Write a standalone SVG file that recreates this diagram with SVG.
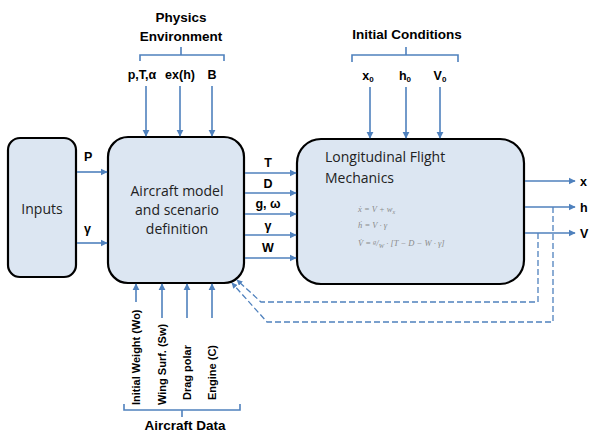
<svg xmlns="http://www.w3.org/2000/svg" width="593" height="435" viewBox="0 0 593 435">
<defs>
<style>
.box{fill:#dce6f2;stroke:#000;stroke-width:2.2}
.ln{stroke:#4f81bd;stroke-width:1.6;fill:none}
.dash{stroke:#4f81bd;stroke-width:1.3;fill:none;stroke-dasharray:6 3}
.lbl{font-family:"Liberation Sans",Arial,sans-serif;font-weight:bold;font-size:12.5px;fill:#000}
.ttl{font-family:"Liberation Sans",Arial,sans-serif;font-weight:bold;font-size:13.5px;fill:#000;text-anchor:middle}
.body{font-family:"Open Sans","Liberation Sans",sans-serif;font-size:14px;fill:#222}
.eq{font-family:"Liberation Serif","Times New Roman",serif;font-style:italic;font-size:8.5px;fill:#8a8a8a}
.rot{font-family:"Liberation Sans",Arial,sans-serif;font-weight:bold;font-size:11px;fill:#000}
</style>
<marker id="ah" viewBox="0 0 10 10" refX="9" refY="5" markerWidth="4.5" markerHeight="4.5" orient="auto-start-reverse" markerUnits="strokeWidth">
<path d="M0,0 L10,5 L0,10 z" fill="#4f81bd"/>
</marker>
</defs>
<rect width="593" height="435" fill="#fff"/>

<g id="inputs">
<rect class="box" x="8" y="138" width="68" height="139" rx="12"/>
<text class="body" x="42" y="214" text-anchor="middle">Inputs</text>
</g>

<g id="aircraft-model">
<rect class="box" x="108" y="137" width="136" height="146" rx="20"/>
<text class="body" x="177" y="196" text-anchor="middle">Aircraft model</text>
<text class="body" x="177" y="215" text-anchor="middle">and scenario</text>
<text class="body" x="177" y="234" text-anchor="middle">definition</text>
</g>

<g id="flight-mechanics">
<rect class="box" x="297" y="139" width="227" height="145" rx="24"/>
<text class="body" x="325" y="162">Longitudinal Flight</text>
<text class="body" x="325" y="183">Mechanics</text>
<text class="eq" x="358" y="212">ẋ = V + w<tspan font-size="6" dy="1.5">x</tspan></text>
<text class="eq" x="358" y="228">ḣ = V · γ</text>
<text class="eq" x="358" y="246">V̇ = <tspan font-size="6.5" dy="-2.5">g</tspan><tspan dy="2.5">/</tspan><tspan font-size="6.5" dy="2">W</tspan><tspan dy="-2"> · [T − D − W · γ]</tspan></text>
</g>

<g id="physics-environment">
<text class="ttl" x="181" y="22">Physics</text>
<text class="ttl" x="181" y="41">Environment</text>
<path class="ln" d="M140,61 V55 H224 V61 M181,55 V47"/>
<text class="lbl" x="142" y="79" text-anchor="middle" font-size="11.5">p,T,α</text>
<text class="lbl" x="180" y="79" text-anchor="middle" font-size="11.5">ex(h)</text>
<text class="lbl" x="212" y="79" text-anchor="middle" font-size="11.5">B</text>
</g>

<g id="initial-conditions">
<text class="ttl" x="407" y="39">Initial Conditions</text>
<path class="ln" d="M352,62 V55 H458 V62 M406,55 V47"/>
<text class="lbl" x="368" y="80" text-anchor="middle">x<tspan font-size="8" dy="2">0</tspan></text>
<text class="lbl" x="405" y="80" text-anchor="middle">h<tspan font-size="8" dy="2">0</tspan></text>
<text class="lbl" x="440" y="80" text-anchor="middle">V<tspan font-size="8" dy="2">0</tspan></text>
</g>

<g id="aircraft-data">
<text class="rot" transform="translate(140,405) rotate(-90)">Initial Weight (Wo)</text>
<text class="rot" transform="translate(166,405) rotate(-90)">Wing Surf. (Sw)</text>
<text class="rot" transform="translate(191,400) rotate(-90)">Drag polar</text>
<text class="rot" transform="translate(216,400) rotate(-90)">Engine (C)</text>
<path class="ln" d="M124,404 V410 H240 V404 M182,410 V417"/>
<text class="ttl" x="185" y="430">Aircraft Data</text>
</g>

<g id="connectors">
<line class="ln" x1="77" y1="172" x2="107" y2="172" marker-end="url(#ah)"/>
<line class="ln" x1="77" y1="243" x2="107" y2="243" marker-end="url(#ah)"/>
<line class="ln" x1="146" y1="86" x2="146" y2="136" marker-end="url(#ah)"/>
<line class="ln" x1="180" y1="86" x2="180" y2="136" marker-end="url(#ah)"/>
<line class="ln" x1="212" y1="86" x2="212" y2="136" marker-end="url(#ah)"/>
<line class="ln" x1="370" y1="87" x2="370" y2="138" marker-end="url(#ah)"/>
<line class="ln" x1="406" y1="87" x2="406" y2="138" marker-end="url(#ah)"/>
<line class="ln" x1="440" y1="87" x2="440" y2="138" marker-end="url(#ah)"/>
<line class="ln" x1="245" y1="173" x2="296" y2="173" marker-end="url(#ah)"/>
<line class="ln" x1="245" y1="193" x2="296" y2="193" marker-end="url(#ah)"/>
<line class="ln" x1="245" y1="214" x2="296" y2="214" marker-end="url(#ah)"/>
<line class="ln" x1="245" y1="235" x2="296" y2="235" marker-end="url(#ah)"/>
<line class="ln" x1="245" y1="258" x2="296" y2="258" marker-end="url(#ah)"/>
<line class="ln" x1="525" y1="181" x2="575" y2="181" marker-end="url(#ah)"/>
<line class="ln" x1="525" y1="207" x2="575" y2="207" marker-end="url(#ah)"/>
<line class="ln" x1="525" y1="233" x2="575" y2="233" marker-end="url(#ah)"/>
<line class="ln" x1="136" y1="302" x2="136" y2="284" marker-end="url(#ah)"/>
<line class="ln" x1="162" y1="318" x2="162" y2="284" marker-end="url(#ah)"/>
<line class="ln" x1="187" y1="318" x2="187" y2="284" marker-end="url(#ah)"/>
<line class="ln" x1="212" y1="318" x2="212" y2="284" marker-end="url(#ah)"/>
<path class="dash" d="M538,233 V302 H261 L237,280" marker-end="url(#ah)"/>
<path class="dash" d="M553,207 V322 H267 L232,283" marker-end="url(#ah)"/>
<text class="lbl" x="84" y="161">P</text>
<text class="lbl" x="84" y="233">γ</text>
<text class="lbl" x="268" y="167" text-anchor="middle">T</text>
<text class="lbl" x="268" y="188" text-anchor="middle">D</text>
<text class="lbl" x="268" y="208" text-anchor="middle">g, ω</text>
<text class="lbl" x="268" y="230" text-anchor="middle">γ</text>
<text class="lbl" x="268" y="252" text-anchor="middle">W</text>
<text class="lbl" x="580" y="186">x</text>
<text class="lbl" x="580" y="212">h</text>
<text class="lbl" x="580" y="238">V</text>
</g>
</svg>
